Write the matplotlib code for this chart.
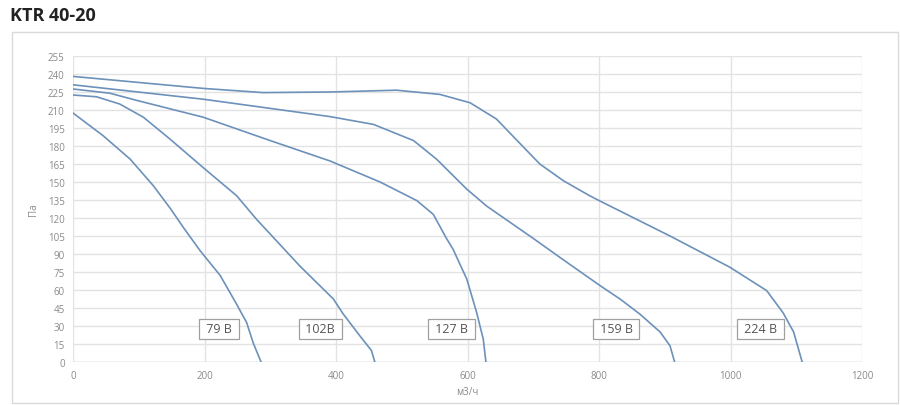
import matplotlib
matplotlib.use("Agg")
import matplotlib.pyplot as plt
from matplotlib.patches import Rectangle

plt.rcParams['font.family'] = ['Open Sans', 'DejaVu Sans']

# curves: flow (м3/ч) vs pressure (Па)
x79 = [0, 46, 87, 122, 148, 168, 193, 224, 249, 264, 274, 286]
y79 = [207.5, 188.5, 169, 147, 128, 112, 93, 72, 48, 33, 16, 0]

x102 = [0, 36, 71, 107, 147, 198, 249, 279, 345, 396, 411, 436, 454, 459]
y102 = [222.5, 221, 215, 204, 186, 162, 138.5, 119, 80, 52.5, 40, 22, 9.5, 0]

x127 = [0, 56, 97, 198, 300, 391, 467, 523, 548, 568, 578, 599, 614, 624, 628]
y127 = [227.5, 224, 218, 204, 184.5, 167.5, 150, 134.5, 123, 103, 94, 69, 41, 19, 0]

x159 = [0, 198, 391, 457, 518, 553, 599, 629, 700, 741, 802, 832, 862, 893, 908, 915]
y159 = [231, 219, 204.5, 198, 184.5, 169, 144, 130, 103, 87, 63.5, 52.5, 40, 25, 13.5, 0]

x224 = [0, 198, 289, 391, 492, 558, 604, 644, 680, 710, 746, 786, 802, 908, 999, 1055, 1080, 1096, 1109]
y224 = [238, 228, 224.5, 225, 226.5, 223, 216, 202.5, 182, 165, 151, 138.5, 134, 105, 79, 59.5, 41, 25, 0]

labels = ["79 В", "102В", "127 В", "159 В", "224 В"]
label_x = [222, 376, 576, 826, 1046]
label_y = 27.5

xticks = list(range(0, 1201, 200))
yticks = list(range(0, 256, 15))

line_color = '#6C91BA'
grid_color = '#E3E3E3'
tick_color = '#8A8A8A'

fig = plt.figure(figsize=(9, 4.06), dpi=100)

# outer chart frame
fig.patches.append(Rectangle((12/900, 1-404/406), 886/900, 371/406, transform=fig.transFigure,
                             fill=False, edgecolor='#DADADA', lw=1))

fig.text(10/900, 1-16/406, "KTR 40-20", fontsize=13, fontweight='bold', color='#222222',
         va='center', ha='left')

ax = fig.add_axes([73/900, 1-363/406, (862-73)/900, (363-57)/406])

for xs, ys in [(x79, y79), (x102, y102), (x127, y127), (x159, y159), (x224, y224)]:
    ax.plot(xs, ys, color=line_color, lw=1.2, solid_joinstyle='round', zorder=3)

for lab, lx in zip(labels, label_x):
    ax.text(lx, label_y, " " + lab + " ", ha='center', va='center', fontsize=9, color='#555555',
            zorder=4, bbox=dict(boxstyle='square,pad=0.3', fc='white', ec='#A0A0A0', lw=0.9))

ax.set_xlim(0, 1200)
ax.set_ylim(0, 255)
ax.set_xticks(xticks)
ax.set_yticks(yticks)
ax.grid(True, color=grid_color, lw=1)
ax.set_axisbelow(True)
for s in ax.spines.values():
    s.set_visible(False)
ax.axhline(0, color='#D4D4D4', lw=1, zorder=2)
ax.tick_params(length=0, labelsize=7, labelcolor=tick_color, pad=6)

ax.set_ylabel("Па", fontsize=7, color=tick_color, labelpad=6)
fig.text(467/900, 1-393/406, "м3/ч", fontsize=7, color=tick_color, ha='center', va='center')

fig.savefig("out.png", dpi=100)
